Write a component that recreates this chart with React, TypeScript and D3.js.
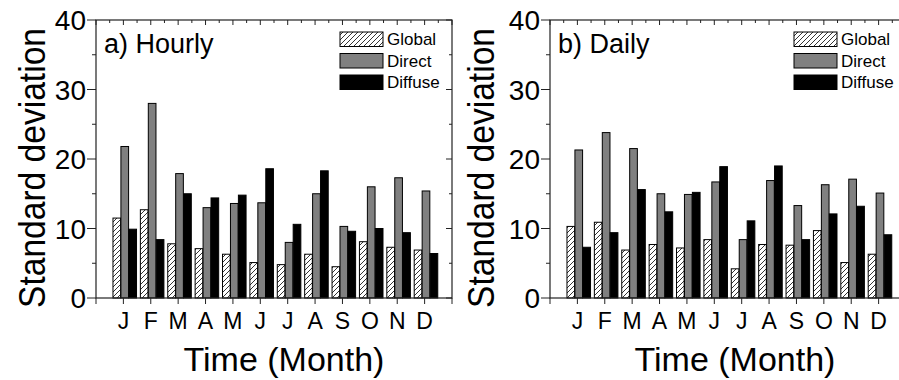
import React, { useEffect, useRef } from "react";
import * as d3 from "d3";

const months = ["J", "F", "M", "A", "M", "J", "J", "A", "S", "O", "N", "D"];
const seriesNames = ["Global", "Direct", "Diffuse"];
const yTicks = [0, 10, 20, 30, 40];

const hourlyGlobal = [11.5, 12.7, 7.8, 7.1, 6.3, 5.1, 4.8, 6.3, 4.5, 8.1, 7.3, 6.9];
const hourlyDirect = [21.8, 28.0, 17.9, 13.0, 13.6, 13.7, 8.0, 15.0, 10.3, 16.0, 17.3, 15.4];
const hourlyDiffuse = [9.9, 8.4, 15.0, 14.4, 14.8, 18.6, 10.6, 18.3, 9.6, 10.0, 9.4, 6.4];

const dailyGlobal = [10.3, 10.9, 6.9, 7.7, 7.2, 8.4, 4.2, 7.7, 7.6, 9.7, 5.1, 6.3];
const dailyDirect = [21.3, 23.8, 21.5, 15.0, 14.9, 16.7, 8.4, 16.9, 13.3, 16.3, 17.1, 15.1];
const dailyDiffuse = [7.3, 9.4, 15.6, 12.4, 15.2, 18.9, 11.1, 19.0, 8.4, 12.1, 13.2, 9.1];

const width = 899;
const height = 380;
const font = "'Liberation Sans', Arial, sans-serif";
const fills = ["url(#hatch)", "#808080", "#000"];

type Panel = {
  title: string;
  x0: number;
  x1: number;
  yTitleX: number;
  xTitleX: number;
  series: number[][];
};

const panels: Panel[] = [
  { title: "a) Hourly", x0: 96, x1: 452, yTitleX: 45, xTitleX: 284, series: [hourlyGlobal, hourlyDirect, hourlyDiffuse] },
  { title: "b) Daily", x0: 550, x1: 906, yTitleX: 494, xTitleX: 735, series: [dailyGlobal, dailyDirect, dailyDiffuse] },
];

const App = () => {
  const svgRef = useRef<SVGSVGElement>(null);

  useEffect(() => {
    const root = d3.select(svgRef.current);
    root.selectAll("*").remove();

    // hatch pattern for the Global bars
    const pat = root
      .append("defs")
      .append("pattern")
      .attr("id", "hatch")
      .attr("patternUnits", "userSpaceOnUse")
      .attr("width", 5)
      .attr("height", 5);
    pat.append("rect").attr("width", 5).attr("height", 5).attr("fill", "#fff");
    pat
      .append("path")
      .attr("d", "M-1,1 L1,-1 M0,5 L5,0 M4,6 L6,4")
      .attr("stroke", "#000")
      .attr("stroke-width", 0.8);

    const y = d3.scaleLinear().domain([0, 40]).range([298, 20]);

    panels.forEach((p) => {
      const x = d3.scaleLinear().domain([0, 13]).range([p.x0, p.x1]);
      const g = root.append("g");
      const bw = x(0.28) - x(0);

      // bars
      p.series.forEach((vals, si) => {
        g.selectAll(null)
          .data(vals)
          .enter()
          .append("rect")
          .attr("x", (_d, i) => x(i + 1 + 0.05 + (si - 1) * 0.29) - bw / 2)
          .attr("y", (d) => y(d))
          .attr("width", bw)
          .attr("height", (d) => y(0) - y(d))
          .attr("fill", fills[si])
          .attr("stroke", "#000")
          .attr("stroke-width", 1);
      });

      // frame
      g.append("rect")
        .attr("x", p.x0)
        .attr("y", y(40))
        .attr("width", p.x1 - p.x0)
        .attr("height", y(0) - y(40))
        .attr("fill", "none")
        .attr("stroke", "#222")
        .attr("stroke-width", 1.2);

      // y ticks
      d3.range(0, 41, 5).forEach((v) => {
        const major = v % 10 === 0;
        g.append("line")
          .attr("x1", p.x0 - (major ? 9 : 4))
          .attr("x2", p.x0)
          .attr("y1", y(v))
          .attr("y2", y(v))
          .attr("stroke", "#222");
        g.append("line")
          .attr("x1", p.x1 - (major ? 6 : 3))
          .attr("x2", p.x1)
          .attr("y1", y(v))
          .attr("y2", y(v))
          .attr("stroke", "#222");
      });
      g.selectAll(null)
        .data(yTicks)
        .enter()
        .append("text")
        .attr("x", p.x0 - 10)
        .attr("y", (d) => y(d))
        .attr("dy", "0.36em")
        .attr("text-anchor", "end")
        .attr("font-family", font)
        .attr("font-size", 28)
        .text((d) => d);

      // x ticks
      d3.range(0, 13.01, 0.5).forEach((m) => {
        const major = m % 1 === 0;
        if (major) {
          g.append("line")
            .attr("x1", x(m))
            .attr("x2", x(m))
            .attr("y1", y(0))
            .attr("y2", y(0) + 6)
            .attr("stroke", "#222");
        }
        g.append("line")
          .attr("x1", x(m))
          .attr("x2", x(m))
          .attr("y1", y(40))
          .attr("y2", y(40) + (major ? 5 : 3))
          .attr("stroke", "#222");
      });
      g.selectAll(null)
        .data(months)
        .enter()
        .append("text")
        .attr("x", (_d, i) => x(i + 1))
        .attr("y", 329)
        .attr("text-anchor", "middle")
        .attr("font-family", font)
        .attr("font-size", 23)
        .text((d) => d);

      // titles
      g.append("text")
        .attr("x", p.xTitleX)
        .attr("y", 371)
        .attr("text-anchor", "middle")
        .attr("font-family", font)
        .attr("font-size", 34)
        .text("Time (Month)");
      g.append("text")
        .attr("transform", `translate(${p.yTitleX},168) rotate(-90)`)
        .attr("text-anchor", "middle")
        .attr("font-family", font)
        .attr("font-size", 36)
        .attr("textLength", 280)
        .attr("lengthAdjust", "spacingAndGlyphs")
        .text("Standard deviation");
      g.append("text")
        .attr("x", p.x0 + 8)
        .attr("y", 53)
        .attr("font-family", font)
        .attr("font-size", 27)
        .text(p.title);

      // legend
      const lx = p.x1 - 112;
      seriesNames.forEach((name, i) => {
        g.append("rect")
          .attr("x", lx)
          .attr("y", 32 + i * 21.5)
          .attr("width", 43)
          .attr("height", 14.5)
          .attr("fill", fills[i])
          .attr("stroke", "#000")
          .attr("stroke-width", 1);
        g.append("text")
          .attr("x", lx + 47)
          .attr("y", 45 + i * 21.5)
          .attr("font-family", font)
          .attr("font-size", 17)
          .text(name);
      });
    });
  }, []);

  return (
    <svg
      ref={svgRef}
      width={width}
      height={height}
      style={{ position: "absolute", left: 0, top: 0, background: "#fff" }}
    />
  );
};

export default App;
